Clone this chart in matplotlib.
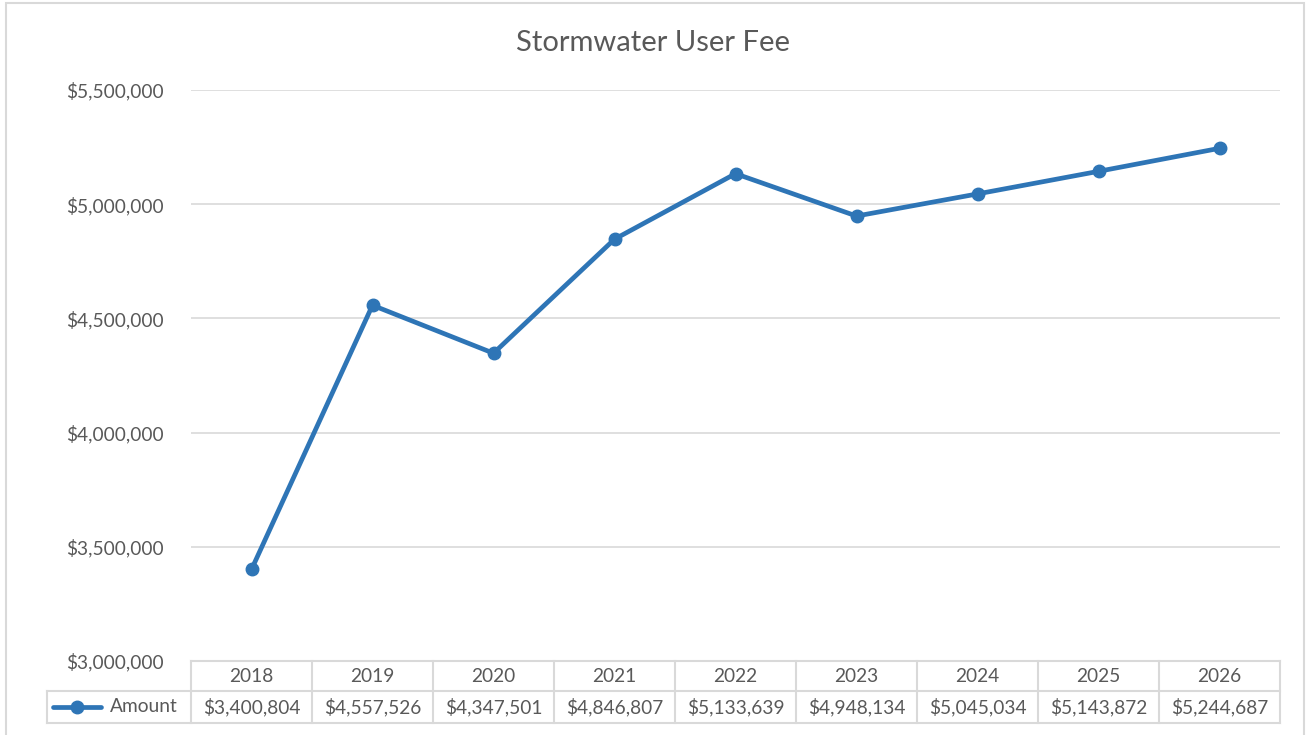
import matplotlib
matplotlib.use("Agg")
import matplotlib.pyplot as plt
from matplotlib.lines import Line2D
from matplotlib.patches import Rectangle
from matplotlib.transforms import blended_transform_factory
from matplotlib.ticker import FuncFormatter

years = ["2018", "2019", "2020", "2021", "2022", "2023", "2024", "2025", "2026"]
amounts = [3400804, 4557526, 4347501, 4846807, 5133639, 4948134, 5045034, 5143872, 5244687]
series_name = "Amount"
title = "Stormwater User Fee"

W, H = 1307, 735
plt.rcParams['font.family'] = ['Lato', 'DejaVu Sans']
TXT = '#595959'
GRID = '#D9D9D9'
BLUE = '#2E75B6'
FS = 13.8

fig = plt.figure(figsize=(W / 100, H / 100), dpi=100)

def fx(px):
    return px / W

def fy(py):
    return 1 - py / H

# outer chart border
fig.patches.append(Rectangle((fx(6), fy(740)), fx(1304) - fx(6), fy(3) - fy(740),
                             transform=fig.transFigure, fill=False, edgecolor=GRID, lw=1.5))

x0, x1, ytop, ybot = 191, 1280, 90, 661
ax = fig.add_axes([fx(x0), fy(ybot), fx(x1) - fx(x0), fy(ytop) - fy(ybot)])
xs = list(range(len(years)))
ax.plot(xs, amounts, color=BLUE, lw=3.4, marker='o', ms=9, solid_capstyle='round', zorder=3)
ax.set_xlim(-0.5, len(years) - 0.5)
ax.set_ylim(3000000, 5500000)
ax.set_yticks([3000000, 3500000, 4000000, 4500000, 5000000, 5500000])
ax.yaxis.set_major_formatter(FuncFormatter(lambda v, p: "${:,.0f}".format(v)))
ax.grid(axis='y', color=GRID, lw=1.2)
ax.set_axisbelow(True)
for s in ax.spines.values():
    s.set_visible(False)
ax.tick_params(axis='y', length=0, pad=20, labelsize=FS, labelcolor=TXT)
ax.tick_params(axis='x', length=0, labelbottom=False)
ax.set_xticks([])

fig.text(0.5, fy(43), title, ha='center', va='center', fontsize=21, color=TXT)

# data table
tr = blended_transform_factory(ax.transData, fig.transFigure)
r0, r1, r2 = 661, 691, 723
lk = dict(color=GRID, lw=1.5, transform=fig.transFigure, clip_on=False)
fig.add_artist(Line2D([fx(x0), fx(x1)], [fy(r0), fy(r0)], **lk))
fig.add_artist(Line2D([fx(47), fx(x1)], [fy(r1), fy(r1)], **lk))
fig.add_artist(Line2D([fx(47), fx(x1)], [fy(r2), fy(r2)], **lk))
fig.add_artist(Line2D([fx(47), fx(47)], [fy(r1), fy(r2)], **lk))
for i in range(len(years) + 1):
    fig.add_artist(Line2D([i - 0.5, i - 0.5], [fy(r0), fy(r2)], color=GRID, lw=1.5,
                          transform=tr, clip_on=False))
for i, (yr, a) in enumerate(zip(years, amounts)):
    fig.text(i, fy((r0 + r1) / 2), yr, transform=tr, ha='center', va='center',
             fontsize=FS, color=TXT)
    fig.text(i, fy((r1 + r2) / 2), "${:,.0f}".format(a), transform=tr, ha='center',
             va='center', fontsize=FS, color=TXT)
# legend key
ym = fy((r1 + r2) / 2)
fig.add_artist(Line2D([fx(53), fx(101)], [ym, ym], color=BLUE, lw=3.4,
                      transform=fig.transFigure, solid_capstyle='round'))
fig.add_artist(Line2D([fx(77)], [ym], color=BLUE, marker='o', ms=9,
                      transform=fig.transFigure))
fig.text(fx(110), ym, series_name, ha='left', va='center', fontsize=FS, color=TXT)

fig.savefig("out.png", dpi=100)
